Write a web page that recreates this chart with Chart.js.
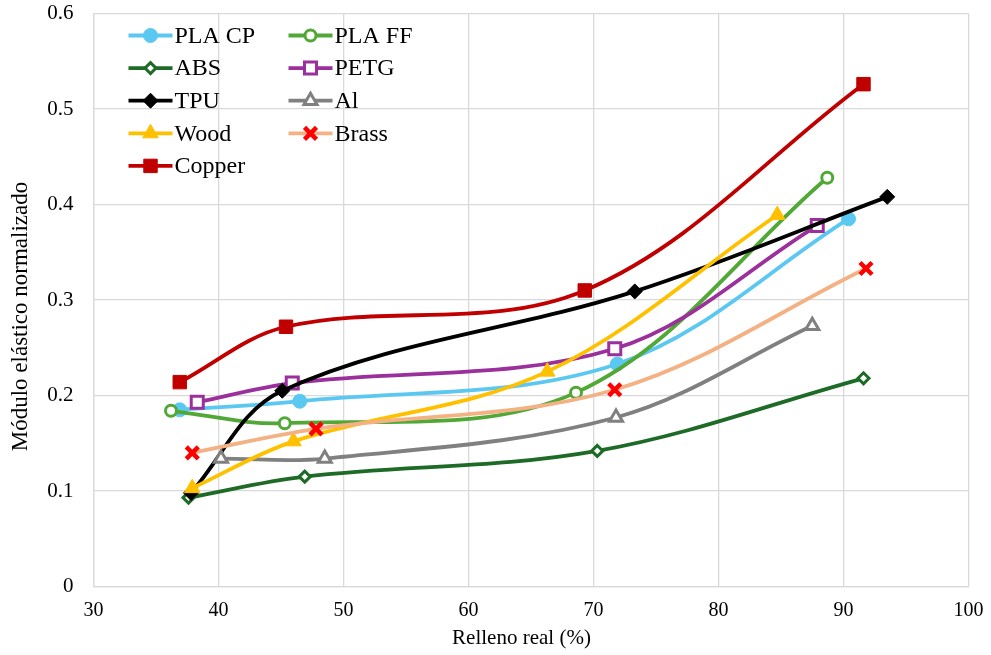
<!DOCTYPE html>
<html>
<head>
<meta charset="utf-8">
<script src="https://cdn.jsdelivr.net/npm/chart.js@4/dist/chart.umd.min.js"></script>
<style>
  html, body { margin: 0; padding: 0; background: #fff; }
  #wrap { width: 991px; height: 655px; position: relative; }
</style>
</head>
<body>
<div id="wrap"><canvas id="grafico"></canvas></div>
<script>
// Relleno real (%) y módulo elástico normalizado por material
const seriesNames = ['PLA CP', 'PLA FF', 'ABS', 'PETG', 'TPU', 'Al', 'Wood', 'Brass', 'Copper'];

const plaCpX = [36.9, 46.5, 71.9, 90.4];
const plaCpY = [0.185, 0.194, 0.233, 0.385];
const plaFfX = [36.2, 45.3, 68.6, 88.7];
const plaFfY = [0.184, 0.171, 0.203, 0.428];
const absX = [37.6, 46.9, 70.3, 91.6];
const absY = [0.093, 0.115, 0.142, 0.218];
const petgX = [38.3, 45.9, 71.7, 87.9];
const petgY = [0.193, 0.213, 0.249, 0.378];
const tpuX = [37.8, 45.1, 73.3, 93.5];
const tpuY = [0.098, 0.205, 0.309, 0.408];
const alX = [40.2, 48.5, 71.8, 87.5];
const alY = [0.134, 0.134, 0.177, 0.273];
const woodX = [37.9, 46.0, 66.3, 84.7];
const woodY = [0.103, 0.152, 0.225, 0.389];
const brassX = [37.9, 47.8, 71.7, 91.8];
const brassY = [0.140, 0.165, 0.206, 0.333];
const copperX = [36.9, 45.4, 69.3, 91.6];
const copperY = [0.214, 0.272, 0.310, 0.526];

const xTicks = [30, 40, 50, 60, 70, 80, 90, 100];
const yTicks = [0, 0.1, 0.2, 0.3, 0.4, 0.5, 0.6];

const xTitle = 'Relleno real (%)';
const yTitle = 'Módulo elástico normalizado';

const seriesX = [plaCpX, plaFfX, absX, petgX, tpuX, alX, woodX, brassX, copperX];
const seriesY = [plaCpY, plaFfY, absY, petgY, tpuY, alY, woodY, brassY, copperY];

// estilo de línea y marcador de cada serie
const styles = [
    { line: '#5BC8F2', style: 'circle', radius: 7, fill: '#5BC8F2', edge: '#5BC8F2', bw: 1 },
    { line: '#52A836', style: 'circle', radius: 5.5, fill: '#ffffff', edge: '#52A836', bw: 3 },
    { line: '#1D6B26', style: 'rectRot', radius: 5.5, fill: '#ffffff', edge: '#1D6B26', bw: 3 },
    { line: '#9B2F9B', style: 'rect', radius: 8.5, fill: '#ffffff', edge: '#9B2F9B', bw: 3 },
    { line: '#000000', style: 'rectRot', radius: 7.5, fill: '#000000', edge: '#000000', bw: 1 },
    { line: '#808080', style: 'triangle', radius: 7.5, fill: '#ffffff', edge: '#808080', bw: 3 },
    { line: '#FFC000', style: 'triangle', radius: 9, fill: '#FFC000', edge: '#FFC000', bw: 1 },
    { line: '#F4B183', style: 'crossRot', radius: 8.5, fill: '#FF0000', edge: '#FF0000', bw: 4.5 },
    { line: '#C00000', style: 'rect', radius: 9.5, fill: '#C00000', edge: '#C00000', bw: 1 },
];

const datasets = seriesNames.map((name, i) => ({
    label: name,
    data: seriesX[i].map((x, j) => ({ x: x, y: seriesY[i][j] })),
    showLine: true,
    tension: 0.35,
    borderColor: styles[i].line,
    borderWidth: 3.8,
    pointStyle: styles[i].style,
    pointRadius: styles[i].radius,
    pointBackgroundColor: styles[i].fill,
    pointBorderColor: styles[i].edge,
    pointBorderWidth: styles[i].bw,
    order: seriesNames.length - i,
}));

const serif = '"Liberation Serif", "Times New Roman", serif';

// leyenda en dos columnas dentro del área de trazado, y títulos de ejes
const insideLegend = {
    id: 'insideLegend',
    afterDraw(chart) {
        const { ctx, chartArea } = chart;
        ctx.save();
        ctx.font = '24px ' + serif;
        ctx.textBaseline = 'middle';
        ctx.fillStyle = '#000';
        seriesNames.forEach((name, i) => {
            const col = i % 2, row = Math.floor(i / 2);
            const x0 = chartArea.left + 35 + col * 160;
            const y0 = chartArea.top + 22 + row * 32.6;
            const s = styles[i];
            ctx.strokeStyle = s.line;
            ctx.lineWidth = 3.8;
            ctx.beginPath();
            ctx.moveTo(x0, y0);
            ctx.lineTo(x0 + 44, y0);
            ctx.stroke();
            ctx.fillStyle = s.fill;
            ctx.strokeStyle = s.edge;
            ctx.lineWidth = s.bw;
            Chart.helpers.drawPoint(ctx, { pointStyle: s.style, radius: s.radius, borderWidth: s.bw, rotation: 0 }, x0 + 22, y0);
            ctx.fillStyle = '#000';
            ctx.fillText(name, x0 + 46, y0 + 1);
        });

        ctx.textAlign = 'center';
        ctx.font = '21px ' + serif;
        ctx.fillText(xTitle, chartArea.left + 428, chartArea.bottom + 52);
        ctx.translate(21, chartArea.top + 303);
        ctx.rotate(-Math.PI / 2);
        ctx.font = '23px ' + serif;
        ctx.fillText(yTitle, 0, 0);
        ctx.restore();
    }
};

// sin margen extra por las etiquetas de los extremos
const noOverhang = (axis) => {
    axis.paddingTop = 0;
    axis.paddingBottom = 0;
    axis.paddingLeft = 0;
    axis.paddingRight = 0;
};

new Chart(document.getElementById('grafico'), {
    type: 'scatter',
    data: { datasets: datasets },
    options: {
        responsive: true,
        maintainAspectRatio: false,
        animation: false,
        layout: { padding: { top: 13.5, right: 22.5, left: 0, bottom: 0 } },
        plugins: {
            legend: { display: false },
            tooltip: { enabled: false },
        },
        scales: {
            x: {
                type: 'linear',
                min: 30,
                max: 100,
                afterBuildTicks: (axis) => { axis.ticks = xTicks.map(v => ({ value: v })); },
                afterFit: (axis) => { axis.height = 68.5; noOverhang(axis); },
                grid: { color: '#D9D9D9', lineWidth: 1.3, drawTicks: false },
                border: { color: '#D9D9D9', width: 1.3 },
                ticks: { color: '#000', padding: 12, font: { family: serif, size: 20 } },
            },
            y: {
                type: 'linear',
                min: 0,
                max: 0.6,
                afterBuildTicks: (axis) => { axis.ticks = yTicks.map(v => ({ value: v })); },
                afterFit: (axis) => { axis.width = 93.5; noOverhang(axis); },
                grid: { color: '#D9D9D9', lineWidth: 1.3, drawTicks: false },
                border: { color: '#D9D9D9', width: 1.3 },
                ticks: {
                    color: '#000',
                    padding: 20,
                    font: { family: serif, size: 21 },
                    callback: (v) => (v === 0 ? '0' : v.toFixed(1)),
                },
            },
        },
    },
    plugins: [insideLegend],
});
</script>
</body>
</html>
